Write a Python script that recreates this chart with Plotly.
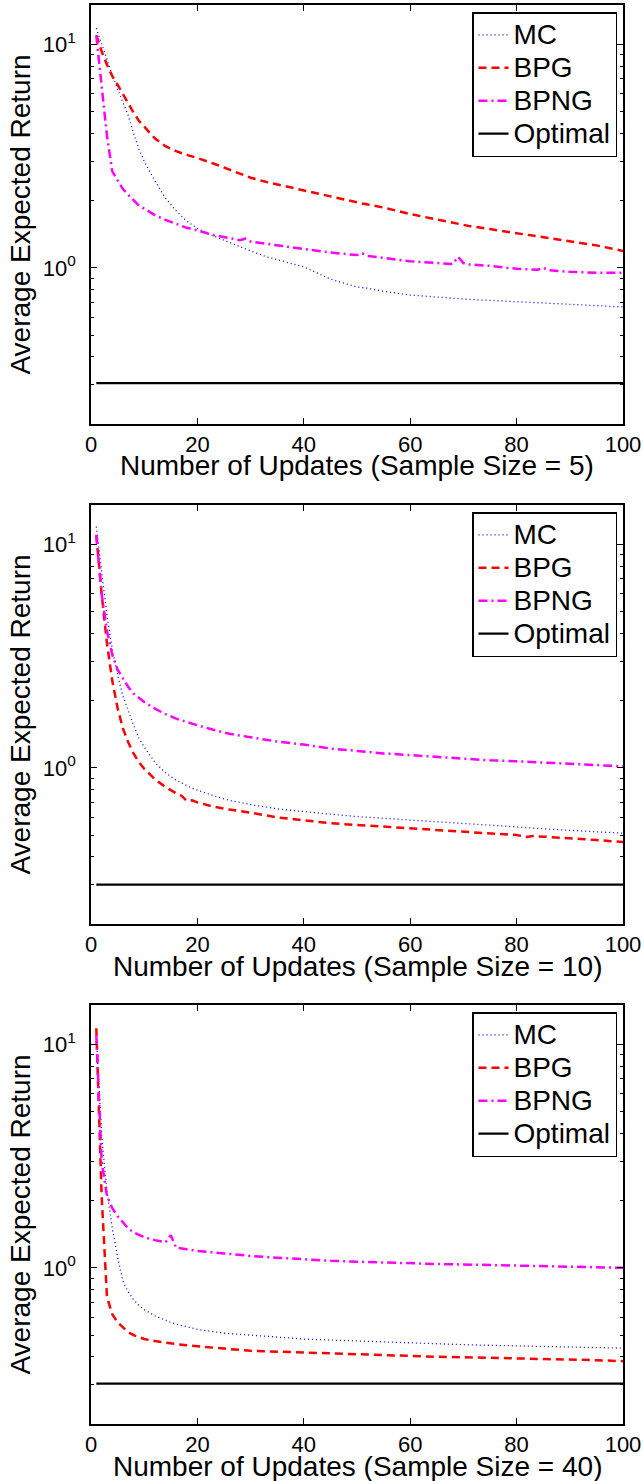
import math
import plotly.graph_objects as go

# ---------------- data ----------------
x_s5 = [1, 2, 3, 4, 5, 6, 7, 8, 9, 10, 12, 14, 16, 18, 20, 23, 26, 28, 29, 30, 33, 36, 40, 45,
        50, 51, 52, 55, 60, 65, 68, 69, 70, 71, 75, 80, 84, 85, 86, 90, 95, 100]
mc_s5 = [11.8, 10.0, 8.5, 7.3, 6.3, 5.5, 4.8, 4.0, 3.4, 3.0, 2.45, 2.05, 1.8, 1.62, 1.5, 1.39, 1.3,
         1.24, 1.22, 1.19, 1.12, 1.07, 1.01, 0.89, 0.82, 0.815, 0.81, 0.785, 0.755, 0.74, 0.73,
         0.727, 0.725, 0.722, 0.715, 0.705, 0.698, 0.696, 0.694, 0.688, 0.678, 0.668]
bpg_s5 = [11.0, 9.3, 8.1, 7.2, 6.6, 6.0, 5.4, 4.95, 4.55, 4.3, 3.8, 3.5, 3.33, 3.2, 3.1, 2.93, 2.75,
          2.63, 2.58, 2.53, 2.42, 2.33, 2.22, 2.08, 1.96, 1.94, 1.92, 1.86, 1.74, 1.65, 1.59,
          1.57, 1.56, 1.54, 1.49, 1.43, 1.38, 1.37, 1.36, 1.32, 1.26, 1.19]
bpng_s5 = [10.9, 6.6, 3.9, 2.7, 2.45, 2.25, 2.12, 2.0, 1.9, 1.84, 1.72, 1.64, 1.57, 1.51, 1.47, 1.40,
           1.36, 1.33, 1.35, 1.31, 1.28, 1.25, 1.21, 1.17, 1.14, 1.16, 1.13, 1.11, 1.07, 1.05,
           1.04, 1.12, 1.05, 1.035, 1.02, 0.99, 0.98, 1.0, 0.975, 0.96, 0.95, 0.95]
opt_s5 = 0.305

x_s10 = [1, 2, 3, 4, 5, 6, 7, 8, 9, 10, 12, 14, 16, 17, 18, 19, 20, 23, 26, 30, 35, 40, 45, 50,
         55, 60, 65, 70, 75, 80, 82, 83, 85, 90, 95, 100]
mc_s10 = [12.0, 7.5, 4.8, 3.4, 2.6, 2.1, 1.8, 1.55, 1.36, 1.24, 1.06, 0.95, 0.88, 0.855, 0.83, 0.81,
          0.795, 0.75, 0.715, 0.685, 0.655, 0.635, 0.62, 0.605, 0.595, 0.585, 0.575, 0.565,
          0.555, 0.545, 0.54, 0.537, 0.533, 0.525, 0.517, 0.51]
bpg_s10 = [11.0, 6.0, 3.6, 2.45, 1.85, 1.5, 1.3, 1.16, 1.06, 0.99, 0.89, 0.82, 0.77, 0.75, 0.71,
           0.715, 0.70, 0.67, 0.65, 0.63, 0.60, 0.58, 0.565, 0.555, 0.545, 0.535, 0.525, 0.515,
           0.508, 0.50, 0.49, 0.495, 0.492, 0.485, 0.475, 0.465]
bpng_s10 = [11.0, 6.0, 4.1, 3.2, 2.75, 2.5, 2.3, 2.15, 2.05, 1.97, 1.84, 1.74, 1.66, 1.63, 1.6,
            1.57, 1.55, 1.48, 1.42, 1.37, 1.31, 1.27, 1.22, 1.19, 1.16, 1.14, 1.12, 1.10, 1.08,
            1.07, 1.065, 1.06, 1.055, 1.045, 1.03, 1.015]
opt_s10 = 0.30

x_s40 = [1, 2, 3, 4, 5, 6, 7, 8, 9, 10, 12, 13, 14, 15, 16, 18, 20, 25, 30, 35, 40, 45, 50, 55,
         60, 65, 70, 75, 80, 85, 90, 95, 100]
mc_s40 = [11.0, 3.9, 2.2, 1.5, 1.12, 0.87, 0.78, 0.72, 0.68, 0.65, 0.61, 0.595, 0.58, 0.57, 0.56,
          0.545, 0.53, 0.51, 0.50, 0.49, 0.48, 0.475, 0.47, 0.465, 0.46, 0.457, 0.453, 0.45,
          0.448, 0.446, 0.443, 0.44, 0.437]
bpg_s40 = [11.8, 2.1, 0.74, 0.62, 0.57, 0.54, 0.515, 0.50, 0.49, 0.48, 0.47, 0.466, 0.462, 0.459,
           0.456, 0.45, 0.445, 0.435, 0.425, 0.42, 0.418, 0.414, 0.41, 0.405, 0.402, 0.40, 0.398,
           0.396, 0.394, 0.392, 0.39, 0.386, 0.382]
bpng_s40 = [11.0, 3.0, 2.1, 1.85, 1.7, 1.6, 1.5, 1.44, 1.40, 1.37, 1.33, 1.31, 1.30, 1.40, 1.23,
            1.21, 1.19, 1.16, 1.13, 1.11, 1.09, 1.075, 1.065, 1.055, 1.05, 1.04, 1.035, 1.03,
            1.025, 1.02, 1.015, 1.01, 1.0]
opt_s40 = 0.303

series_names = ["MC", "BPG", "BPNG", "Optimal"]
x_titles = ["Number of Updates (Sample Size = 5)",
            "Number of Updates (Sample Size = 10)",
            "Number of Updates (Sample Size = 40)"]
y_title = "Average Expected Return"
x_ticks = [0, 20, 40, 60, 80, 100]
y_ticks = [1, 10]
y_ticktext = ["10<sup>0</sup>", "10<sup>1</sup>"]
y_minor = [0.2, 0.3, 0.4, 0.5, 0.6, 0.7, 0.8, 0.9, 2, 3, 4, 5, 6, 7, 8, 9]
y_lim = [0.2, 15]

# ---------------- figure ----------------
FONT = "Liberation Sans, Arial, Helvetica, sans-serif"
W, H = 644, 1481
ML, MR, MT, MB = 91, 21, 5, 57
plot_h = H - MT - MB
panel_h = 419
panel_step = 500
TICK_SIZE = 22
TITLE_SIZE = 28
LEG_BOX_SIZE = 23      # sets legend row spacing
LEG_TEXT_SIZE = 28     # actual legend text size

panels = [
    (x_s5, mc_s5, bpg_s5, bpng_s5, opt_s5),
    (x_s10, mc_s10, bpg_s10, bpng_s10, opt_s10),
    (x_s40, mc_s40, bpg_s40, bpng_s40, opt_s40),
]
styles = [
    dict(color="#0000FF", width=1.3, dash="1px,3px"),
    dict(color="#FF0000", width=2.5, dash="8px,5px"),
    dict(color="#FF00FF", width=2.5, dash="9px,4px,2px,4px"),
    dict(color="#000000", width=2.2),
]

fig = go.Figure()
layout = dict(
    width=W, height=H,
    margin=dict(l=ML, r=MR, t=MT, b=MB),
    paper_bgcolor="white", plot_bgcolor="white",
    font=dict(family=FONT, color="black"),
    annotations=[],
)

for i, (xs, mc, bpg, bpng, opt) in enumerate(panels):
    sfx = "" if i == 0 else str(i + 1)
    leg = "legend" if i == 0 else f"legend{i + 1}"
    ys = [mc, bpg, bpng, [opt] * len(xs)]
    for name, y, st in zip(series_names, ys, styles):
        fig.add_trace(go.Scatter(
            x=xs, y=y, mode="lines",
            name=f"<span style='font-size:{LEG_TEXT_SIZE}px'>{name}</span>",
            line=st, xaxis="x" + sfx, yaxis="y" + sfx, legend=leg, showlegend=True,
        ))
    top_px = i * panel_step
    d_top = 1 - top_px / plot_h
    d_bot = 1 - (top_px + panel_h) / plot_h
    layout["xaxis" + sfx] = dict(
        domain=[0, 1], anchor="y" + sfx, range=[0, 100],
        tickmode="array", tickvals=x_ticks, ticks="inside", ticklen=6,
        tickcolor="black", tickwidth=1, ticklabelstandoff=0,
        showline=True, linecolor="black", linewidth=1.5, mirror="ticks",
        showgrid=False, zeroline=False,
        tickfont=dict(size=TICK_SIZE, family=FONT, color="black"),
        automargin=False,
    )
    layout["yaxis" + sfx] = dict(
        domain=[d_bot, d_top], anchor="x" + sfx, type="log",
        range=[math.log10(y_lim[0]), math.log10(y_lim[1])],
        tickmode="array", tickvals=y_ticks, ticktext=y_ticktext,
        ticks="inside", ticklen=6, tickcolor="black", tickwidth=1, ticklabelstandoff=9,
        minor=dict(tickmode="array", tickvals=y_minor, ticks="inside", ticklen=3,
                   tickcolor="black", tickwidth=1, showgrid=False),
        showline=True, linecolor="black", linewidth=1.5, mirror="ticks",
        showgrid=False, zeroline=False,
        tickfont=dict(size=TICK_SIZE, family=FONT, color="black"),
        title=dict(text=y_title, font=dict(size=TITLE_SIZE, family=FONT, color="black"),
                   standoff=4),
        automargin=False,
    )
    layout["annotations"].append(dict(
        text=x_titles[i], xref="x" + sfx + " domain", yref="y" + sfx + " domain",
        x=0.5, y=-(466 - 424) / panel_h, xanchor="center", yanchor="middle",
        showarrow=False, font=dict(size=TITLE_SIZE, family=FONT, color="black"),
    ))
    layout[leg] = dict(
        x=(617 - ML) / (W - ML - MR), xanchor="right",
        y=1 - (top_px + 7) / plot_h, yanchor="top",
        bgcolor="white", bordercolor="black", borderwidth=1.5,
        font=dict(size=LEG_BOX_SIZE, family=FONT, color="black"),
        tracegroupgap=0, itemwidth=30,
    )

fig.update_layout(**layout)
fig.write_html("out.html")
